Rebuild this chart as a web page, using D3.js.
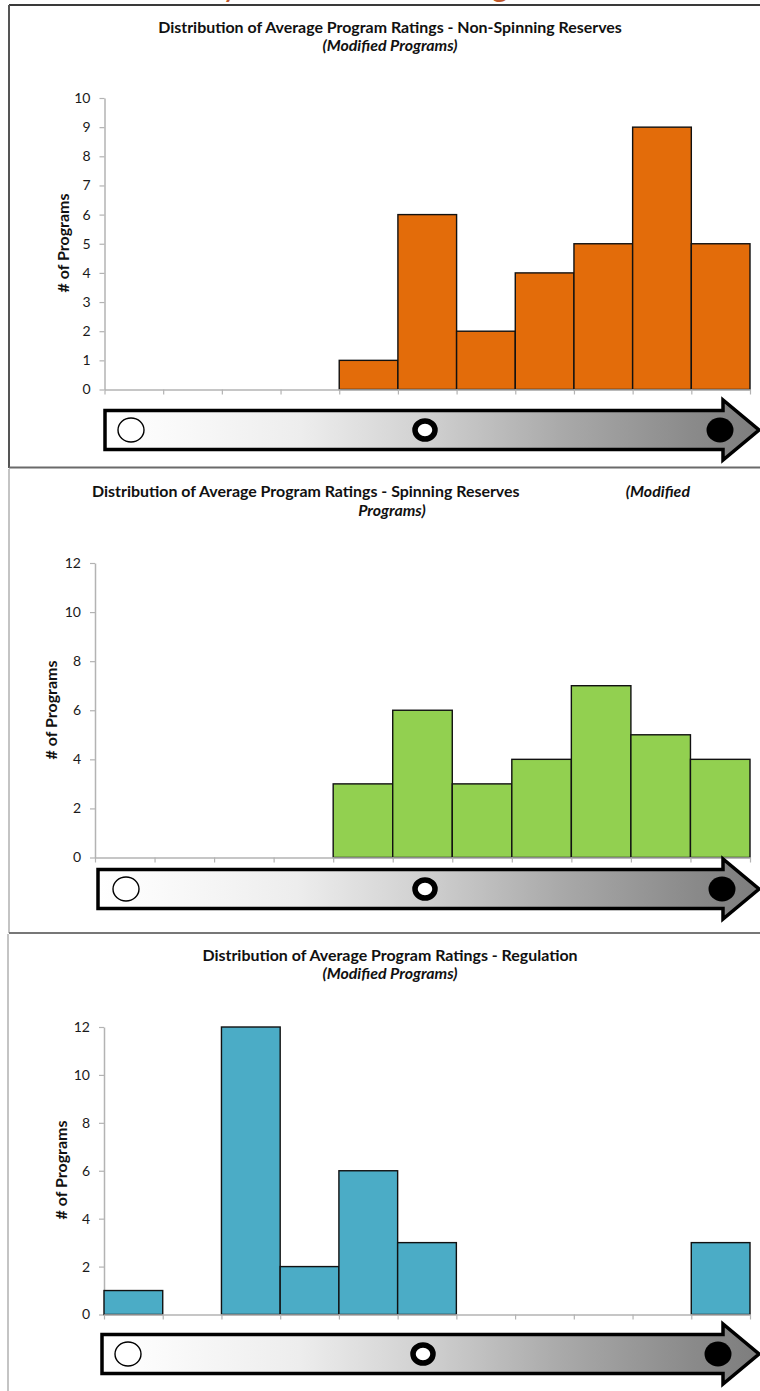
<!DOCTYPE html>
<html>
<head>
<meta charset="utf-8">
<script src="https://cdn.jsdelivr.net/npm/d3@7"></script>
<style>
  html, body { margin: 0; padding: 0; background: #fff; }
  svg { display: block; }
  text { font-family: Lato, "Open Sans", "Liberation Sans", sans-serif; }
</style>
</head>
<body>
<svg id="chart" width="760" height="1391"></svg>
<script>
// Rating bins along the x axis (low rating on the left, high on the right)
const ratingBins = [1, 2, 3, 4, 5, 6, 7, 8, 9, 10, 11];

// Number of programs falling in each rating bin
const nonSpinningCounts = [0, 0, 0, 0, 1, 6, 2, 4, 5, 9, 5];
const spinningCounts    = [0, 0, 0, 0, 3, 6, 3, 4, 7, 5, 4];
const regulationCounts  = [1, 0, 12, 2, 6, 3, 0, 0, 0, 0, 3];

// Y-axis tick labels
const nonSpinningTicks = [0, 1, 2, 3, 4, 5, 6, 7, 8, 9, 10];
const spinningTicks    = [0, 2, 4, 6, 8, 10, 12];
const regulationTicks  = [0, 2, 4, 6, 8, 10, 12];

// Chart titles
const nonSpinningTitle = "Distribution of Average Program Ratings - Non-Spinning Reserves";
const spinningTitle    = "Distribution of Average Program Ratings - Spinning Reserves";
const regulationTitle  = "Distribution of Average Program Ratings - Regulation";
const subTitle = "(Modified Programs)";
const yAxisLabel = "# of Programs";

const svg = d3.select("#chart");

// Shared arrow gradient (white on the left fading to grey at the head)
const defs = svg.append("defs");
const grad = defs.append("linearGradient")
  .attr("id", "ratingGrad")
  .attr("x1", "0%").attr("x2", "100%").attr("y1", "0%").attr("y2", "0%");
[[0, "#ffffff"], [0.08, "#fbfbfb"], [0.3, "#ededed"], [0.5, "#cfcfcf"],
 [0.7, "#a9a9a9"], [0.9, "#8a8a8a"], [1, "#7d7d7d"]]
  .forEach(([o, c]) => grad.append("stop").attr("offset", o).attr("stop-color", c));

// Document heading, sitting above the top edge of the page area
const heading = svg.append("text")
  .text("Summary of Modified Ratings")
  .attr("font-family", "'Liberation Serif', 'DejaVu Serif', serif")
  .attr("font-size", 24)
  .attr("fill", "#c0582a")
  .attr("y", -20);
{
  const node = heading.node();
  const s = heading.text();
  const iy = s.indexOf("y"), ig = s.lastIndexOf("g");
  const cx = i => { const e = node.getExtentOfChar(i); return e.x + e.width / 2; };
  const k = 270 / (cx(ig) - cx(iy));
  const fs = 24 * k;
  heading.attr("font-size", fs);
  heading.attr("y", 3.2 - 0.215 * fs);
  heading.attr("x", 230 - cx(iy));
}

// Frame lines between the stacked charts
const frame = svg.append("g").attr("fill", "none");
frame.append("line").attr("x1", 9).attr("x2", 760).attr("y1", 5).attr("y2", 5)
  .attr("stroke", "#3a3a3a").attr("stroke-width", 2);
frame.append("line").attr("x1", 9).attr("x2", 9).attr("y1", 5).attr("y2", 468)
  .attr("stroke", "#555").attr("stroke-width", 2);
frame.append("line").attr("x1", 9).attr("x2", 760).attr("y1", 467.5).attr("y2", 467.5)
  .attr("stroke", "#6a6a6a").attr("stroke-width", 2);
frame.append("line").attr("x1", 9).attr("x2", 9).attr("y1", 469).attr("y2", 933)
  .attr("stroke", "#c4c4c4").attr("stroke-width", 2);
frame.append("line").attr("x1", 9).attr("x2", 760).attr("y1", 933).attr("y2", 933)
  .attr("stroke", "#777").attr("stroke-width", 2);
frame.append("line").attr("x1", 8).attr("x2", 8).attr("y1", 934).attr("y2", 1391)
  .attr("stroke", "#c4c4c4").attr("stroke-width", 2);

// Title font size fitted so the longest title spans its column
const probe = svg.append("text").attr("font-size", 14).attr("font-weight", 700).text(nonSpinningTitle);
const titleSize = 14 * 464 / probe.node().getComputedTextLength();
probe.remove();

const panels = [
  {
    counts: nonSpinningCounts, ticks: nonSpinningTicks, yMax: 10, color: "#e36c0a",
    x0: 104.5, x1: 750, yTop: 98, yBottom: 389.5,
    titleLines: [
      { text: nonSpinningTitle, x: 390, y: 33, anchor: "middle", italic: false },
      { text: subTitle, x: 390, y: 51, anchor: "middle", italic: true }
    ],
    labelX: 62, labelY: 243,
    arrow: { left: 105, headX: 723, tip: 759, cy: 430, half: 19.5, headHalf: 30,
             circles: [131, 425, 720] }
  },
  {
    counts: spinningCounts, ticks: spinningTicks, yMax: 12, color: "#92d050",
    x0: 95, x1: 750, yTop: 563, yBottom: 857.5,
    titleLines: [
      { text: spinningTitle, x: 92, y: 497, anchor: "start", italic: false },
      { text: "(Modified", x: 690, y: 497, anchor: "end", italic: true },
      { text: "Programs)", x: 392, y: 516, anchor: "middle", italic: true }
    ],
    labelX: 50, labelY: 710,
    arrow: { left: 98, headX: 723, tip: 759, cy: 889, half: 19.5, headHalf: 30,
             circles: [126, 425, 722] }
  },
  {
    counts: regulationCounts, ticks: regulationTicks, yMax: 12, color: "#4bacc6",
    x0: 104, x1: 750, yTop: 1027, yBottom: 1314.5,
    titleLines: [
      { text: regulationTitle, x: 390, y: 961, anchor: "middle", italic: false },
      { text: subTitle, x: 390, y: 979, anchor: "middle", italic: true }
    ],
    labelX: 60, labelY: 1170,
    arrow: { left: 102, headX: 723, tip: 759, cy: 1354, half: 19.5, headHalf: 30,
             circles: [128, 423, 718] }
  }
];

panels.forEach(p => {
  const g = svg.append("g");

  // Titles
  p.titleLines.forEach(t => {
    g.append("text")
      .attr("x", t.x).attr("y", t.y)
      .attr("text-anchor", t.anchor)
      .attr("font-size", titleSize)
      .attr("font-weight", 700)
      .attr("font-style", t.italic ? "italic" : "normal")
      .attr("fill", "#111")
      .text(t.text);
  });

  const x = d3.scaleBand().domain(ratingBins).range([p.x0, p.x1]).padding(0);
  const xEdges = d3.scaleLinear().domain([0, ratingBins.length]).range([p.x0, p.x1]);
  const y = d3.scaleLinear().domain([0, p.yMax]).range([p.yBottom, p.yTop]);

  // Y axis
  const yAxis = g.append("g")
    .attr("transform", `translate(${p.x0},0)`)
    .call(d3.axisLeft(y).tickValues(p.ticks).tickSize(5).tickSizeOuter(0).tickPadding(9));
  yAxis.select(".domain").attr("stroke", "#b3b3b3").attr("stroke-width", 1.5);
  yAxis.selectAll(".tick line").attr("stroke", "#b3b3b3").attr("stroke-width", 1.2);
  yAxis.selectAll(".tick text")
    .attr("font-size", 14).attr("fill", "#1a1a1a")
    .attr("font-family", "Lato, 'Open Sans', sans-serif");

  // Bars
  g.append("g").selectAll("rect")
    .data(ratingBins.map((b, i) => ({ bin: b, value: p.counts[i] })).filter(d => d.value > 0))
    .join("rect")
    .attr("x", d => x(d.bin))
    .attr("width", x.bandwidth())
    .attr("y", d => y(d.value))
    .attr("height", d => y(0) - y(d.value))
    .attr("fill", p.color)
    .attr("stroke", "#111")
    .attr("stroke-width", 1.4);

  // X axis with ticks at the bin edges
  const xAxis = g.append("g")
    .attr("transform", `translate(0,${p.yBottom})`)
    .call(d3.axisBottom(xEdges).tickValues(d3.range(ratingBins.length + 1))
      .tickFormat(() => "").tickSize(5).tickSizeOuter(0));
  xAxis.select(".domain").attr("stroke", "#b3b3b3").attr("stroke-width", 1.5);
  xAxis.selectAll(".tick line").attr("stroke", "#b3b3b3").attr("stroke-width", 1.2);

  // Y axis title
  g.append("text")
    .attr("transform", `translate(${p.labelX},${p.labelY}) rotate(-90)`)
    .attr("text-anchor", "middle")
    .attr("dominant-baseline", "central")
    .attr("font-size", 16)
    .attr("font-weight", 700)
    .attr("fill", "#111")
    .text(yAxisLabel);

  // Rating scale arrow
  const a = p.arrow;
  const arrowPath = d3.path();
  arrowPath.moveTo(a.left, a.cy - a.half);
  arrowPath.lineTo(a.headX, a.cy - a.half);
  arrowPath.lineTo(a.headX, a.cy - a.headHalf);
  arrowPath.lineTo(a.tip, a.cy);
  arrowPath.lineTo(a.headX, a.cy + a.headHalf);
  arrowPath.lineTo(a.headX, a.cy + a.half);
  arrowPath.lineTo(a.left, a.cy + a.half);
  arrowPath.closePath();
  g.append("path")
    .attr("d", arrowPath.toString())
    .attr("fill", "url(#ratingGrad)")
    .attr("stroke", "#000")
    .attr("stroke-width", 3.5)
    .attr("stroke-linejoin", "miter");

  // Empty, partial and full rating symbols
  g.append("ellipse").attr("cx", a.circles[0]).attr("cy", a.cy).attr("rx", 13).attr("ry", 12)
    .attr("fill", "#fff").attr("stroke", "#000").attr("stroke-width", 1.4);
  g.append("ellipse").attr("cx", a.circles[1]).attr("cy", a.cy).attr("rx", 10).attr("ry", 9)
    .attr("fill", "#fff").attr("stroke", "#000").attr("stroke-width", 5.5);
  g.append("ellipse").attr("cx", a.circles[2]).attr("cy", a.cy).attr("rx", 13.5).attr("ry", 12.5)
    .attr("fill", "#000");
});
</script>
</body>
</html>
